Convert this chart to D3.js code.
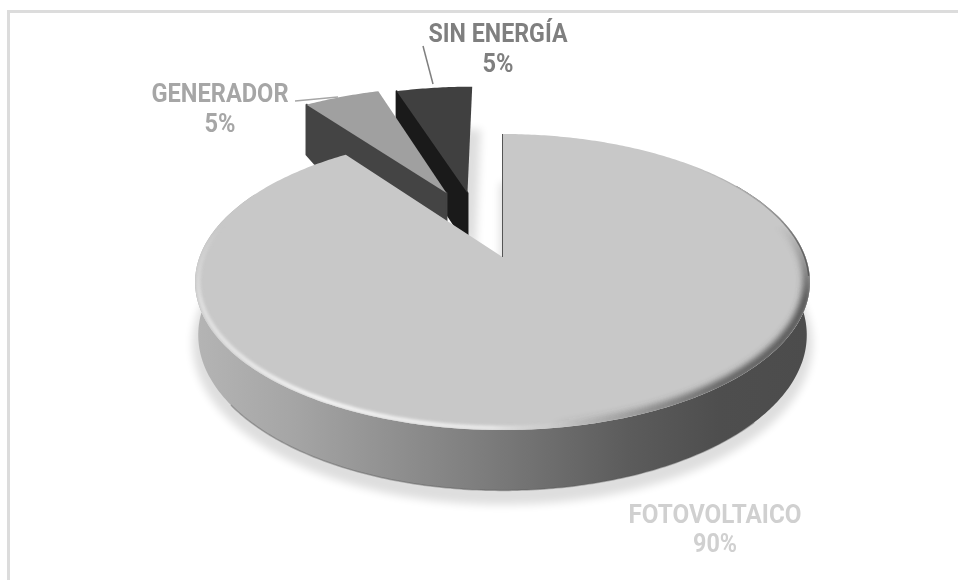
<!DOCTYPE html>
<html>
<head>
<meta charset="utf-8">
<script src="https://cdn.jsdelivr.net/npm/d3@7"></script>
<style>
  html, body { margin: 0; padding: 0; background: #fff; }
  svg { display: block; }
  text { font-family: Roboto, sans-serif; font-size: 26px; font-weight: 700; text-anchor: middle; }
</style>
</head>
<body>
<div id="chart"></div>
<script>
const categories = ["FOTOVOLTAICO", "GENERADOR", "SIN ENERGÍA"];
const values = [90, 5, 5];
const topColors = ["#c8c8c8", "#a0a0a0", "#404040"];
const wallColors = ["#6f6f6f", "#444444", "#1a1a1a"];
const labelColors = ["#d0d0d0", "#a6a6a6", "#7f7f7f"];

const width = 958, height = 580;

// pie geometry, a tilted disc seen with a little perspective
const cx = 502.5, cy = 257, Rx = 303, Ry = 143.8, persp = 0.169, depth = 52;

// how far each slice is pulled out of the disc (unit = radius)
const offsets = [[0, 0], [-0.2, -0.481], [-0.125, -0.481]];

// labels: centre x, baseline of the 2 lines, width of the 2 lines
const labelPos = [[715, 523, 552, 173, 44], [220, 102, 132, 137, 31], [498, 42, 72, 139, 31]];
const leaders = [null, [[295, 101], [338, 97]], [[423, 46], [433, 84]]];

const svg = d3.select("#chart").append("svg").attr("width", width).attr("height", height);
const defs = svg.append("defs");

function project(u, v, z) {
  const f = 1 / (1 - persp * v);
  return [cx + Rx * u * f, cy + Ry * v * f + z * f];
}

const pie = d3.pie().sort(null).value(d => d)(values);
const line = d3.line();

// points on the rim of slice i, from angle a0 to a1, r = part of the radius
function rim(i, a0, a1, z, r = 1) {
  const n = Math.max(2, Math.ceil((a1 - a0) * 80));
  return d3.range(n + 1).map(k => {
    const a = a0 + (a1 - a0) * k / n;
    return project(offsets[i][0] + r * Math.sin(a), offsets[i][1] - r * Math.cos(a), z);
  });
}
const apex = (i, z) => project(offsets[i][0], offsets[i][1], z);
const topFace = i => line([apex(i, 0), ...rim(i, pie[i].startAngle, pie[i].endAngle, 0)]) + "Z";

// filters and gradients
const blur = (id, s) => defs.append("filter").attr("id", id)
  .attr("x", "-20%").attr("y", "-20%").attr("width", "140%").attr("height", "140%")
  .append("feGaussianBlur").attr("stdDeviation", s);
blur("shadow", 4);
blur("soft", 1.6);
blur("wide", 3);
blur("thin", 0.6);

function hGrad(id, stops) {
  const g = defs.append("linearGradient").attr("id", id).attr("gradientUnits", "userSpaceOnUse")
    .attr("x1", 197).attr("x2", 811).attr("y1", 0).attr("y2", 0);
  stops.forEach(s => g.append("stop").attr("offset", s[0]).attr("stop-color", s[1]).attr("stop-opacity", s[2] === undefined ? 1 : s[2]));
}
hGrad("sideGrad", [[0, "#b4b4b4"], [0.15, "#a6a6a6"], [0.45, "#7f7f7f"], [0.7, "#5c5c5c"], [0.85, "#4e4e4e"], [1, "#4c4c4c"]]);
hGrad("rimGrad", [[0, "#dedede"], [0.2, "#f4f4f4"], [0.48, "#e8e8e8"], [0.62, "#c8c8c8", 0], [1, "#c8c8c8", 0]]);
hGrad("darkGrad", [[0, "#4c4c4c", 0], [0.58, "#4c4c4c", 0], [0.85, "#4c4c4c", 0.85], [1, "#4c4c4c", 1]]);

// thin dark edge on the upper right, comes in slowly
const edgeGrad = defs.append("linearGradient").attr("id", "edgeGrad").attr("gradientUnits", "userSpaceOnUse")
  .attr("x1", 0).attr("x2", 0).attr("y1", 165).attr("y2", 250);
edgeGrad.append("stop").attr("offset", 0).attr("stop-color", "#6e6e6e").attr("stop-opacity", 0);
edgeGrad.append("stop").attr("offset", 1).attr("stop-color", "#6e6e6e").attr("stop-opacity", 1);

// the bevel fades out towards the back of the disc
const fade = defs.append("linearGradient").attr("id", "fade").attr("gradientUnits", "userSpaceOnUse")
  .attr("x1", 0).attr("x2", 0).attr("y1", 225).attr("y2", 300);
fade.append("stop").attr("offset", 0).attr("stop-color", "#000");
fade.append("stop").attr("offset", 1).attr("stop-color", "#fff");
defs.append("mask").attr("id", "rimMask").attr("maskUnits", "userSpaceOnUse")
  .attr("x", 0).attr("y", 0).attr("width", width).attr("height", height)
  .append("rect").attr("width", width).attr("height", height).attr("fill", "url(#fade)");
defs.append("clipPath").attr("id", "bigClip").append("path").attr("d", topFace(0));

// soft shadow below everything
const shadow = svg.append("g").attr("filter", "url(#shadow)").attr("fill", "#000").attr("opacity", 0.13);
pie.forEach((d, i) => {
  const low = i == 0 ? 60 : 54;
  shadow.append("path")
    .attr("d", line([apex(i, low), ...rim(i, d.startAngle, d.endAngle, low)]) + "Z")
    .attr("stroke", "#000").attr("stroke-width", 5).attr("transform", i == 0 ? null : "translate(6,2)");
});

// small slices are further back, so they go first (last one is furthest)
[2, 1].forEach(i => {
  const d = pie[i];
  const g = svg.append("g");
  const a = apex(i, 0), b = rim(i, d.startAngle, d.endAngle, 0)[0];
  g.append("path")
    .attr("d", line([a, b, [b[0], b[1] + depth - 2], [b[0] + 8, b[1] + depth + 7], [a[0], a[1] + depth]]) + "Z")
    .attr("fill", wallColors[i]).attr("stroke", wallColors[i]).attr("stroke-linejoin", "round").attr("stroke-width", 2);
  g.append("path").attr("d", topFace(i)).attr("fill", topColors[i]);
});

// big slice: side band, top face, bevel, start wall
const big = pie[0];
svg.append("path")
  .attr("d", line([...rim(0, 1, 5.2, 0), ...rim(0, 1, 5.2, depth, 0.99).reverse()]) + "Z")
  .attr("fill", "url(#sideGrad)");
svg.append("path")
  .attr("d", line(rim(0, 2.3, 4.1, depth, 0.99)))
  .attr("fill", "none").attr("stroke", "#555555").attr("stroke-opacity", 0.4).attr("stroke-width", 1.5).attr("filter", "url(#thin)");
svg.append("path").attr("d", topFace(0)).attr("fill", topColors[0]);

const bevel = svg.append("g").attr("clip-path", "url(#bigClip)");
bevel.append("path")
  .attr("d", line(rim(0, 0.7, 1.7, 0, 0.997)))
  .attr("fill", "none").attr("stroke", "url(#edgeGrad)").attr("stroke-width", 1.6).attr("filter", "url(#thin)");
const bevelMasked = bevel.append("g").attr("mask", "url(#rimMask)");
bevelMasked.append("path")
  .attr("d", line(rim(0, 1.3, 4.6, 0, 0.992)))
  .attr("fill", "none").attr("stroke", "url(#darkGrad)").attr("stroke-width", 9).attr("filter", "url(#wide)");
bevelMasked.append("path")
  .attr("d", line(rim(0, 2, 5.2, 0, 0.99)))
  .attr("fill", "none").attr("stroke", "url(#rimGrad)").attr("stroke-width", 4.5).attr("filter", "url(#soft)");

svg.append("path")
  .attr("d", line([apex(0, 0), rim(0, big.startAngle, big.endAngle, 0)[0]]))
  .attr("stroke", "#555555").attr("stroke-width", 1).attr("fill", "none");

// leader lines
leaders.forEach((l, i) => {
  if (!l) return;
  svg.append("path").attr("d", line(l)).attr("fill", "none")
    .attr("stroke", labelColors[i]).attr("stroke-width", 1.5);
});

// labels
categories.forEach((c, i) => {
  const p = labelPos[i];
  svg.append("text").attr("x", p[0]).attr("y", p[1]).attr("fill", labelColors[i])
    .attr("textLength", p[3]).attr("lengthAdjust", "spacingAndGlyphs").text(c);
  svg.append("text").attr("x", p[0]).attr("y", p[2]).attr("fill", labelColors[i])
    .attr("textLength", p[4]).attr("lengthAdjust", "spacingAndGlyphs").text(values[i] + "%");
});

// chart frame
svg.append("path").attr("d", line([[8.5, height], [8.5, 11.5], [width, 11.5]]))
  .attr("fill", "none").attr("stroke", "#dcdcdc").attr("stroke-width", 3);
</script>
</body>
</html>
